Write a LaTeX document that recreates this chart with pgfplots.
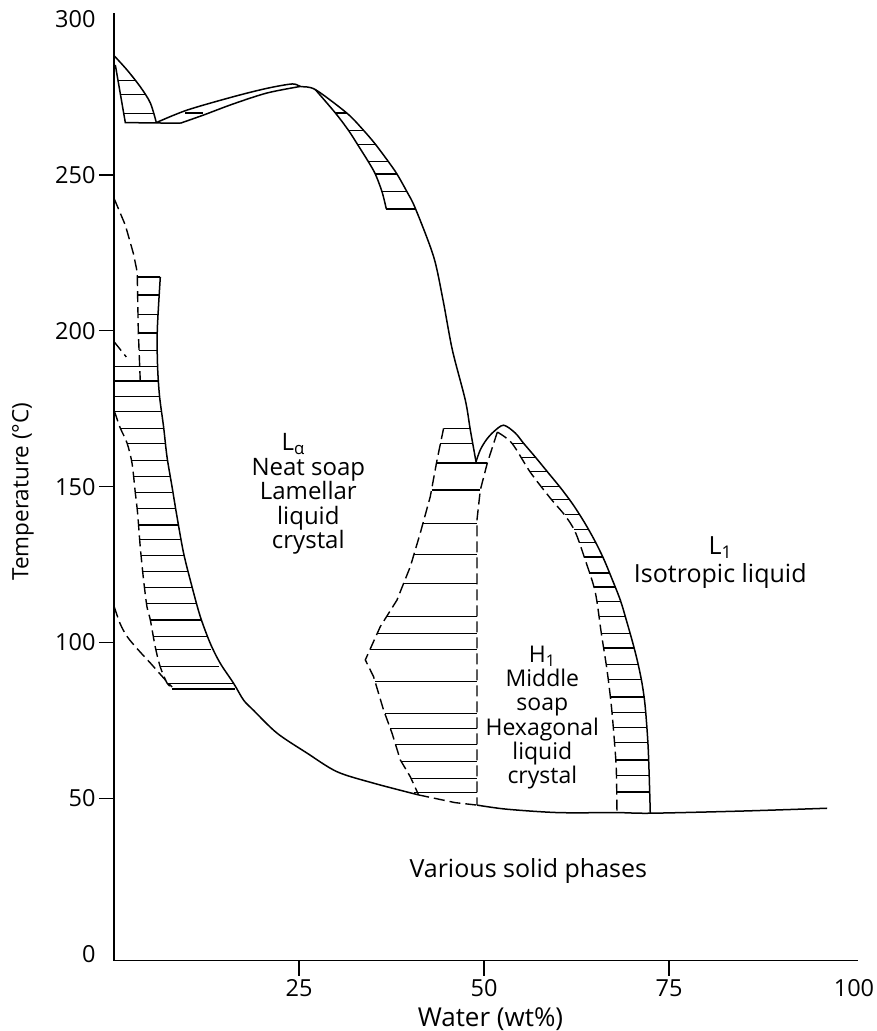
\documentclass[border=0pt]{standalone}
\usepackage{fontspec}
\setmainfont{Open Sans}
\usepackage{pgfplots}
\pgfplotsset{compat=1.18}
\newcommand\ft{\fontsize{23.5}{27}\selectfont}
\pgfplotsset{
  sol/.style={black, line width=1.5pt, no markers},
  hat/.style={black, line width=1.15pt, no markers, unbounded coords=jump},
  dsh/.style={black, line width=1.4pt, dash pattern=on 11pt off 5pt, no markers},
}
\begin{document}
\begin{tikzpicture}
\useasboundingbox (-114pt,-70.3pt) rectangle (763pt,960.7pt);
\begin{axis}[
  at={(0pt,0pt)}, anchor=south west,
  scale only axis, width=744pt, height=947.7pt,
  xmin=0, xmax=100.54, ymin=-2.12, ymax=301.97,
  axis lines=left, axis line style={-, line width=1.3pt, black},
  tick align=outside, major tick length=15pt,
  tick style={line width=1.3pt, black},
  xtick={25,50,75}, ytick={50,100,150,200,250},
  extra x ticks={100}, extra y ticks={0,300},
  extra tick style={tick style={draw=none}},
  /pgf/number format/assume math mode=true,
  tick label style={font=\ft},
  xlabel={Water (wt\%)}, ylabel={Temperature (°C)},
  x label style={font=\fontsize{26}{30}\selectfont, at={(rel axis cs:0.506,-0.0615)}, anchor=center},
  y label style={font=\fontsize{22.5}{26}\selectfont, at={(rel axis cs:-0.1223,0.495)}, anchor=center},
  clip=false,
]
% ---------- region A (top left) ----------
\addplot[sol, smooth] coordinates {(0.04,288.2)(1.76,283.7)(3.55,278.3)(4.91,273.1)(5.72,266.8)};
\addplot[sol] coordinates {(0.18,285.3)(1.53,266.8)(8.96,266.6)};
\addplot[hat] coordinates {(0.54,280.3)(2.9,280.3) (nan,nan) (0.86,275.9)(4.19,275.9) (nan,nan) (1.31,269.8)(5.32,269.8) (nan,nan) (9.64,269.9)(12.07,269.9)};
% sliver upper + liquidus down to cusp
\addplot[sol, smooth] coordinates {(5.72,266.8)(9.86,270.8)(16.12,275.1)(20.68,277.8)(24.09,279.2)(25.18,278.4)(27.20,277.4)(31.49,269.8)(33.69,264.4)(35.31,259.9)(37.07,254.3)(38.24,250.3)(39.59,244.6)(40.72,239.3)(43.19,223.8)(44.46,209.9)(45.72,193.9)(47.47,177.8)(48.15,168.2)(48.92,158.0)};
% sliver lower
\addplot[sol, smooth] coordinates {(8.96,266.6)(12.07,269.2)(16.12,272.8)(20.68,276.3)(25.18,278.4)};
% ---------- region B ----------
\addplot[sol, smooth] coordinates {(27.20,277.4)(29.91,269.9)(31.66,264.4)(32.88,259.9)(34.36,254.3)(35.31,250.3)(36.22,244.6)(36.80,239.1)};
\addplot[sol] coordinates {(36.80,239.1)(40.72,239.1)};
\addplot[hat] coordinates {(29.91,269.9)(31.49,269.9) (nan,nan) (31.66,264.4)(33.69,264.4) (nan,nan) (32.88,259.9)(35.31,259.9) (nan,nan) (34.36,254.3)(37.07,254.3) (nan,nan) (35.31,250.3)(38.24,250.3) (nan,nan) (36.22,244.6)(39.59,244.6)};
% ---------- region C (left) ----------
\addplot[dsh] coordinates {(0.04,242.3)(1.53,233.9)(2.61,224.9)(3.08,219.5)(3.15,217.3)(3.28,200.2)(3.55,183.8)};
\addplot[dsh] coordinates {(0.04,196.4)(1.66,191.6)};
\addplot[sol] coordinates {(3.15,217.3)(6.26,217.3)};
\addplot[sol, smooth] coordinates {(6.26,217.3)(5.85,200.2)(5.89,188.5)(6.16,178.9)(6.70,169.2)(7.16,159.6)(7.84,150.0)(8.51,140.4)(9.41,128.6)(10.54,117.9)(11.66,108.3)(13.01,99.7)(14.36,93.3)(16.16,86.9)(17.51,81.5)(18.82,78.3)(22.03,70.9)(26.08,64.5)(30.15,58.5)(35.14,54.8)(41.11,51.1)};
\addplot[dsh, smooth] coordinates {(0.04,174.3)(0.85,168.8)(1.76,164.0)(2.43,157.6)(2.88,148.0)(3.19,141.5)(3.55,130.6)(4.0,120.0)(4.46,111.4)(4.91,107.2)(5.58,98.5)(6.26,92.1)(7.16,87.0)(7.84,85.4)};
\addplot[dsh, smooth] coordinates {(0.04,111.4)(0.85,105.9)(1.80,101.8)(3.28,97.6)(4.91,93.4)(5.99,90.5)(6.93,88.0)(7.84,85.7)};
\addplot[sol] coordinates {(7.84,85.1)(16.39,85.1)};
\addplot[hat] coordinates {
(3.22,211.5)(6.05,211.5) (nan,nan) (3.28,205.1)(5.92,205.1) (nan,nan)
(3.35,199.3)(5.85,199.3) (nan,nan) (3.42,193.8)(5.85,193.8) (nan,nan)
(0.18,188.5)(5.89,188.5) (nan,nan) (0.18,183.9)(5.99,183.9) (nan,nan)
(0.18,178.9)(6.16,178.9) (nan,nan) (0.18,174.0)(6.39,174.0) (nan,nan)
(0.92,168.7)(6.73,168.7) (nan,nan) (1.80,163.7)(6.93,163.7) (nan,nan)
(2.41,158.5)(7.20,158.5) (nan,nan) (2.68,153.2)(7.54,153.2) (nan,nan)
(2.88,148.1)(7.88,148.1) (nan,nan) (3.08,143.0)(8.22,143.0) (nan,nan)
(3.35,137.7)(8.62,137.7) (nan,nan) (3.42,132.9)(9.03,132.9) (nan,nan)
(3.69,127.8)(9.50,127.8) (nan,nan) (3.82,122.7)(10.04,122.7) (nan,nan)
(4.09,117.7)(10.58,117.7) (nan,nan) (4.36,112.6)(11.19,112.6) (nan,nan)
(4.91,107.2)(11.80,107.2) (nan,nan) (5.31,101.8)(12.61,101.8) (nan,nan)
(5.72,97.6)(13.15,97.6) (nan,nan) (6.26,92.2)(14.23,92.2) (nan,nan)
(7.16,86.9)(16.16,86.9)};
% ---------- solidus ----------
\addplot[dsh] coordinates {(41.11,51.1)(46.09,48.6)(49.08,47.8)};
\addplot[sol, smooth] coordinates {(49.08,47.8)(53.05,46.5)(60.03,45.4)(68.0,45.4)(72.47,45.2)(84.91,45.9)(96.38,46.8)};
% ---------- H1 ----------
\addplot[sol, smooth] coordinates {(48.92,158.0)(49.5,161.8)(50.31,165.0)(51.3,167.6)(52.65,169.7)(54.22,167.2)(55.35,163.9)(56.93,159.5)(58.69,154.4)(60.45,149.3)(62.07,144.1)(63.55,138.6)(64.91,132.9)(66.12,127.1)(67.19,121.0)(68.42,113.6)(69.23,107.2)(70.18,99.2)(70.85,92.8)(71.39,86.4)(71.80,79.0)(72.20,65.5)(72.47,45.3)};
% region E (left of H1)
\addplot[sol] coordinates {(44.54,168.7)(48.15,168.7)};
\addplot[dsh] coordinates {(44.54,168.7)(43.65,158.5)(42.74,146.8)(41.39,135.1)(40.04,124.3)(38.24,113.6)(35.99,105.1)(33.96,94.4)(35.08,89.0)(36.43,78.3)(37.57,70.9)(38.69,62.3)(40.04,56.9)(41.16,51.1)};
\addplot[dsh] coordinates {(51.8,167.5)(50.45,157.6)(49.5,148.9)(49.05,139.3)(49.05,47.8)};
\addplot[hat] coordinates {
(44.12,163.9)(48.49,163.9) (nan,nan) (43.61,157.6)(50.41,157.6) (nan,nan)
(42.91,148.9)(49.5,148.9) (nan,nan) (41.76,138.2)(49.05,138.2) (nan,nan)
(40.51,128.1)(49.05,128.1) (nan,nan) (39.15,119.0)(49.05,119.0) (nan,nan)
(36.84,108.3)(49.05,108.3) (nan,nan) (35.58,102.9)(49.05,102.9) (nan,nan)
(34.57,97.6)(49.05,97.6) (nan,nan) (35.28,87.4)(49.05,87.4) (nan,nan)
(36.59,77.3)(49.05,77.3) (nan,nan) (37.34,72.5)(49.05,72.5) (nan,nan)
(38.07,67.2)(49.05,67.2) (nan,nan) (38.82,61.7)(49.05,61.7) (nan,nan)
(40.14,56.4)(49.05,56.4) (nan,nan) (40.6,51.8)(49.05,51.8)};
% region F (right of H1)
\addplot[dsh, smooth] coordinates {(51.8,167.5)(53.78,163.9)(56.26,154.6)(58.96,146.3)(60.99,140.6)(62.34,135.4)(63.69,126.4)(65.03,116.2)(65.85,103.0)(66.62,91.2)(67.2,79.9)(67.61,68.7)(67.88,59.1)(67.97,45.4)};
\addplot[hat] coordinates {
(53.78,163.9)(55.35,163.9) (nan,nan) (55.07,159.3)(57.04,159.3) (nan,nan)
(56.26,154.8)(58.58,154.8) (nan,nan) (57.81,150.0)(60.23,150.0) (nan,nan)
(59.19,145.9)(61.57,145.9) (nan,nan) (60.88,141.0)(62.95,141.0) (nan,nan)
(62.18,136.2)(64.15,136.2) (nan,nan) (62.86,132.0)(65.11,132.0) (nan,nan)
(63.54,127.4)(66.05,127.4) (nan,nan) (64.24,122.3)(66.98,122.3) (nan,nan)
(64.82,117.8)(67.73,117.8) (nan,nan) (65.24,113.0)(68.50,113.0) (nan,nan)
(65.54,108.2)(69.11,108.2) (nan,nan) (65.85,103.0)(69.72,103.0) (nan,nan)
(66.16,98.2)(70.28,98.2) (nan,nan) (66.51,92.8)(70.85,92.8) (nan,nan)
(66.78,88.0)(71.26,88.0) (nan,nan) (67.07,82.5)(71.61,82.5) (nan,nan)
(67.30,77.4)(71.85,77.4) (nan,nan) (67.47,72.6)(71.99,72.6) (nan,nan)
(67.64,67.8)(72.14,67.8) (nan,nan) (67.78,62.3)(72.24,62.3) (nan,nan)
(67.89,57.2)(72.31,57.2) (nan,nan) (67.95,52.0)(72.38,52.0)};
% ---------- text ----------
\node[font=\fontsize{24}{24.6}\selectfont, align=center, inner sep=0pt] at (axis cs:26.26,147.6)
  {L\textsubscript{α}\hspace*{30pt}\\Neat soap\\Lamellar\\liquid\\crystal};
\node[font=\fontsize{23}{24.2}\selectfont, align=center, inner sep=0pt] at (axis cs:57.88,75.9)
  {H\textsubscript{1}\\Middle\\soap\\Hexagonal\\liquid\\crystal};
\node[font=\fontsize{25}{28.5}\selectfont, align=center, inner sep=0pt] at (axis cs:81.93,125.6)
  {L\textsubscript{1}\\Isotropic liquid};
\node[font=\fontsize{25}{29}\selectfont] at (axis cs:55.99,26.7) {Various solid phases};
\end{axis}
\end{tikzpicture}
\end{document}
